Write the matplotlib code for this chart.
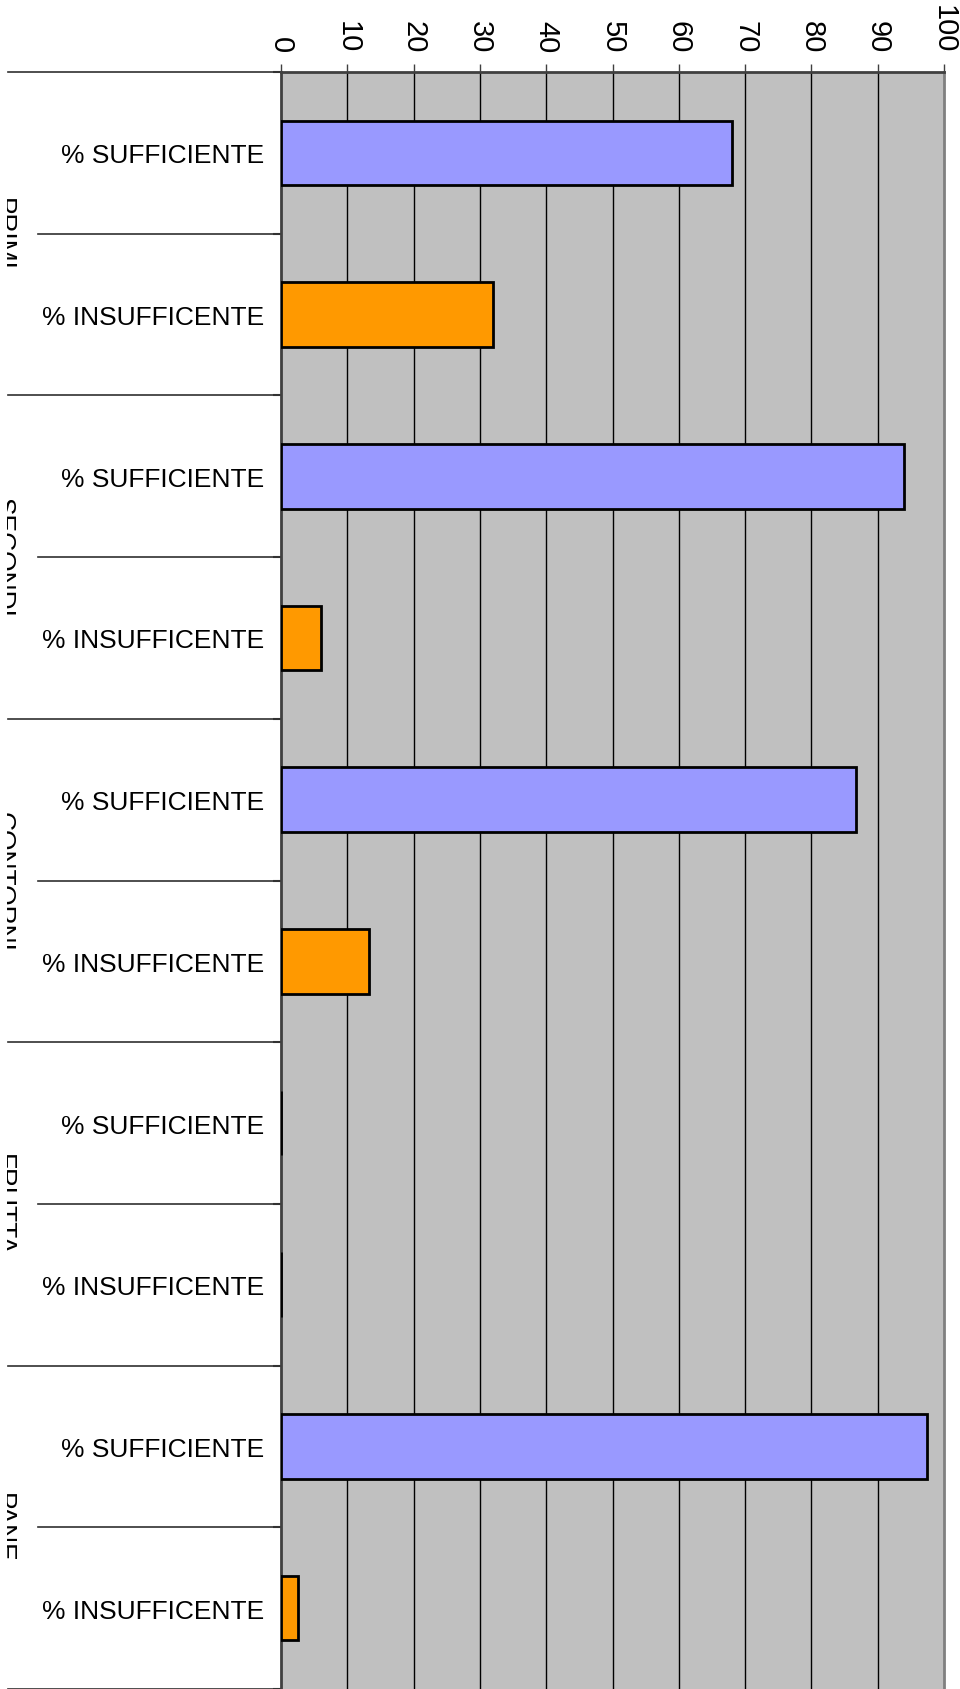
import matplotlib
matplotlib.use("Agg")
import matplotlib.pyplot as plt
import matplotlib.transforms as mtransforms
import numpy as np

plt.rcParams['font.family'] = ['Liberation Sans', 'DejaVu Sans']

# data
groups = ["PRIMI", "SECONDI", "CONTORNI", "FRUTTA", "PANE"]
rows = ["% SUFFICIENTE", "% INSUFFICENTE"]
sufficiente = [68, 94, 86.7, 0, 97.5]
insufficiente = [32, 6, 13.3, 0, 2.5]
x_ticks = list(range(0, 101, 10))

fig = plt.figure(figsize=(9.6, 16.9), dpi=100)
W, H = 960, 1690
ax = fig.add_axes([281 / W, 0, (944 - 281) / W, (H - 73) / H])
ax.set_facecolor("#C0C0C0")

# one row per category, sufficiente then insufficente per group
values = []
colors = []
labels = []
for s, i in zip(sufficiente, insufficiente):
    values += [s, i]
    colors += ["#9999FF", "#FF9900"]
    labels += rows
pos = np.arange(len(values)) + 0.5

ax.barh(pos, values, height=0.4, color=colors, edgecolor="black",
        linewidth=2.0, zorder=3)

ax.set_xlim(0, 100)
ax.set_ylim(len(values), 0)

# grid on the value axis
for v in x_ticks[1:-1]:
    ax.axvline(v, color="black", linewidth=1.0, zorder=1)

# top value axis
ax.xaxis.tick_top()
ax.set_xticks(x_ticks)
ax.set_xticklabels([str(t) for t in x_ticks], rotation=-90, fontsize=21)
ax.tick_params(axis="x", direction="out", length=6, width=1, color="#404040", pad=8)

# category axis labels
ax.set_yticks(pos)
ax.set_yticklabels(labels, fontsize=19)
ax.tick_params(axis="y", which="major", length=0, pad=12)
ax.set_yticks(np.arange(len(values) + 1), minor=True)
ax.tick_params(axis="y", which="minor", direction="out", length=6, width=1.5, color="#404040")

for side in ["left", "top"]:
    ax.spines[side].set_color("#404040")
    ax.spines[side].set_linewidth(2)
ax.spines["right"].set_color("#808080")
ax.spines["right"].set_linewidth(2)
ax.spines["bottom"].set_visible(False)

# divider lines left of the plot
trans = mtransforms.blended_transform_factory(fig.transFigure, ax.transData)
for k in range(len(values) + 1):
    x0 = 8 / W if k % 2 == 0 else 38 / W
    ax.plot([x0, 281 / W], [k, k], color="#303030", linewidth=1.2,
            transform=trans, clip_on=False)

# group names, only their tops show, as in the original
clip = mtransforms.Bbox.from_extents(7, 0, W, H)
for g, name in enumerate(groups):
    t = ax.text(-4 / W, 2 * g + 1, name, transform=trans, rotation=-90,
                rotation_mode="anchor", ha="center", va="baseline",
                fontsize=19)
    t.set_clip_on(True)
    t.set_clip_box(clip)

fig.savefig("out.png", dpi=100)
